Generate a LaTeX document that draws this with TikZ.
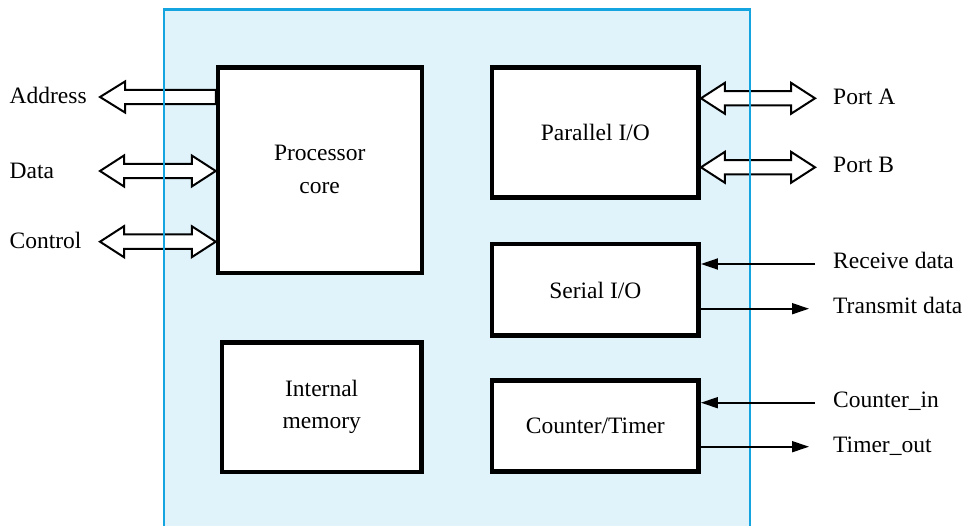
\documentclass[tikz,border=0pt]{standalone}
\usepackage{fontspec}
\setmainfont{Liberation Serif}
\usetikzlibrary{calc,arrows.meta}
\definecolor{chipfill}{RGB}{224,242,250}
\definecolor{chipline}{RGB}{20,165,225}
\newcommand\dblbus[2]{%
  \draw[bus] (#1) -- ($(#1)+(24,-15.5)$) -- ($(#1)+(24,-7.2)$) -- ($(#2)+(-24,-7.2)$) -- ($(#2)+(-24,-15.5)$) -- (#2) -- ($(#2)+(-24,15.5)$) -- ($(#2)+(-24,7.2)$) -- ($(#1)+(24,7.2)$) -- ($(#1)+(24,15.5)$) -- cycle;}
\newcommand\sglbus[2]{%
  \draw[bus] (#1) -- ($(#1)+(25,-15.5)$) -- ($(#1)+(25,-7.2)$) -- ($(#2)+(0,-7.2)$) -- ($(#2)+(0,7.2)$) -- ($(#1)+(25,7.2)$) -- ($(#1)+(25,15.5)$) -- cycle;}
\tikzset{
  blk/.style={draw=black, fill=white, line width=4.5pt, inner sep=0pt},
  txt/.style={font=\fontsize{23.5}{28}\selectfont, inner sep=0pt},
  bus/.style={draw=black, fill=white, line width=2pt, line join=miter},
  sig/.style={line width=1.8pt, -{Triangle[length=17pt,width=11pt]}},
}
\begin{document}
\begin{tikzpicture}[x=1pt,y=-1pt]
\useasboundingbox (0,0) rectangle (971,526);
\clip (0,0) rectangle (971,526);
% chip background
\fill[chipfill] (164,9.5) rectangle (750,540);
% coordinates of the external ends
\coordinate (addrT) at (100,97);
\coordinate (dataT) at (100,171);
\coordinate (ctrlT) at (100,241.7);
\coordinate (portAT) at (815,98.3);
\coordinate (portBT) at (815,167.3);
\coordinate (rxS) at (815,264);
\coordinate (txE) at (809,308.7);
\coordinate (ciS) at (815,402.7);
\coordinate (toE) at (809,446.7);
% blocks (positions only, drawn later)
\path
  (320,170.25) node[blk, minimum width=204pt, minimum height=205.5pt, draw=none, fill=none] (proc) {}
  (321.75,407.25) node[blk, minimum width=199.5pt, minimum height=129.5pt, draw=none, fill=none] (mem) {}
  (595.35,132.5) node[blk, minimum width=206.7pt, minimum height=130pt, draw=none, fill=none] (par) {}
  (595.35,289.65) node[blk, minimum width=206.7pt, minimum height=91.3pt, draw=none, fill=none] (ser) {}
  (595.35,426.1) node[blk, minimum width=206.7pt, minimum height=91.2pt, draw=none, fill=none] (cnt) {};
% buses
\sglbus{addrT}{addrT -| proc.west}
\dblbus{dataT}{dataT -| proc.west}
\dblbus{ctrlT}{ctrlT -| proc.west}
\dblbus{portAT -| par.east}{portAT}
\dblbus{portBT -| par.east}{portBT}
% chip border
\draw[chipline, line width=2.2pt] (164,540) -- (164,9.5) -- (750,9.5) -- (750,540);
% signals
\draw[sig] (rxS) -- (rxS -| ser.east);
\draw[sig] (txE -| ser.east) -- (txE);
\draw[sig] (ciS) -- (ciS -| cnt.east);
\draw[sig] (toE -| cnt.east) -- (toE);
% blocks drawn
\node[blk, minimum width=204pt, minimum height=205.5pt] (procB) at (proc) {};
\node[blk, minimum width=199.5pt, minimum height=129.5pt] (memB) at (mem) {};
\node[blk, minimum width=206.7pt, minimum height=130pt] (parB) at (par) {};
\node[blk, minimum width=206.7pt, minimum height=91.3pt] (serB) at (ser) {};
\node[blk, minimum width=206.7pt, minimum height=91.2pt] (cntB) at (cnt) {};
% block texts
\node[txt, anchor=base] (procT1) at (319.7,160.7) {Processor};
\node[txt, anchor=base] (procT2) at (319.7,193.3) {core};
\node[txt, anchor=base] (memT1) at (321.7,396.7) {Internal};
\node[txt, anchor=base] (memT2) at (321.7,428.3) {memory};
\node[txt, anchor=base] (parT) at (595.35,141) {Parallel I/O};
\node[txt, anchor=base] (serT) at (595.35,298.3) {Serial I/O};
\node[txt, anchor=base] (cntT) at (595.35,433.3) {Counter/Timer};
% external labels
\node[txt, anchor=base west] (lAddr) at (9.5,103.3) {Address};
\node[txt, anchor=base west] (lData) at (9.5,178.3) {Data};
\node[txt, anchor=base west] (lCtrl) at (9.5,248.3) {Control};
\node[txt, anchor=base west] (lPA) at (833,104.3) {Port A};
\node[txt, anchor=base west] (lPB) at (833,172.7) {Port B};
\node[txt, anchor=base west] (lRx) at (833,269) {Receive data};
\node[txt, anchor=base west] (lTx) at (833,314) {Transmit data};
\node[txt, anchor=base west] (lCi) at (833,407.3) {Counter\_in};
\node[txt, anchor=base west] (lTo) at (833,452) {Timer\_out};
\end{tikzpicture}
\end{document}
